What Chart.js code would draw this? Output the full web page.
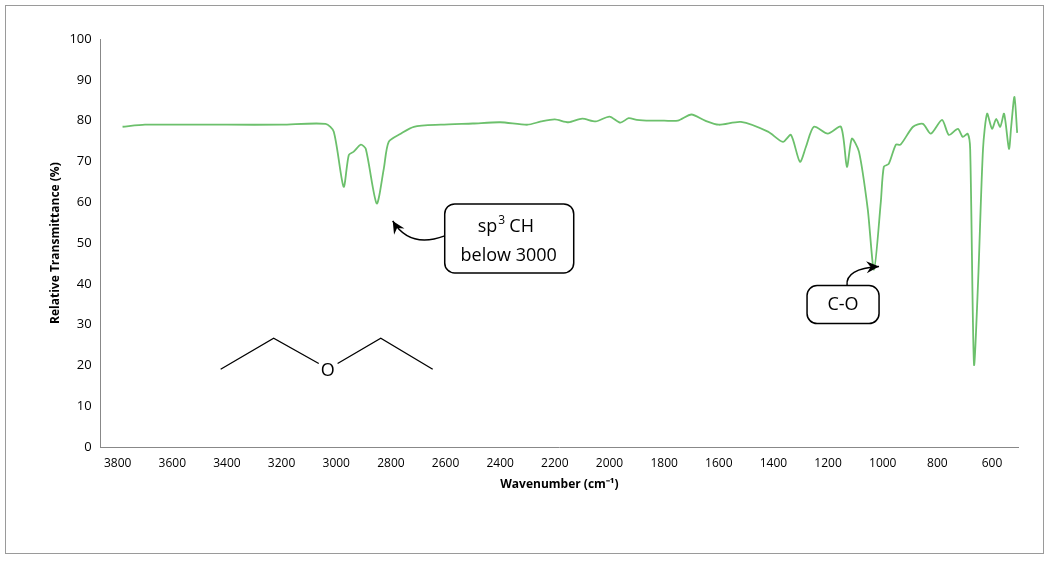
<!DOCTYPE html>
<html><head><meta charset="utf-8">
<script src="https://cdn.jsdelivr.net/npm/chart.js@4/dist/chart.umd.min.js"></script>
<style>
html,body{margin:0;padding:0;background:#fff;}
#wrap{position:absolute;left:5px;top:5px;width:1039px;height:549px;border:1px solid #9a9a9a;box-sizing:border-box;}
canvas{position:absolute;left:0;top:0;}
</style></head><body>
<div id="wrap"></div>
<canvas id="c" width="1052" height="562"></canvas>
<script>
const wavenumbers = [3782,3700,3600,3400,3200,3039,3009,2973,2954,2936,2910,2892,2852,2826,2808,2764,2716,2617,2500,2400,2300,2250,2200,2150,2100,2050,2000,1960,1930,1900,1850,1800,1750,1700,1650,1600,1519,1420,1365,1336,1303,1281,1252,1201,1153,1131,1113,1087,1055,1032,1007,996,978,952,935,889,853,824,783,758,725,707,689,680,666,651,633,618,600,585,570,556,538,530,518,508];
const transmittance = [78.5,79,79,79,79,79.2,77.3,63.8,71.6,72.4,74.1,73.1,59.7,68.2,74.8,76.8,78.5,79,79.3,79.6,79,79.8,80.3,79.6,80.5,79.8,81,79.5,80.6,80.2,80,80,80,81.5,80,79,79.7,77.3,74.8,76.5,69.9,73.6,78.5,76.8,78.5,68.7,75.6,72.4,58.4,43.5,60.1,68.7,69.4,74.1,74.1,78.5,79.2,76.8,80.2,76.5,78,76,76.8,73,20.3,40.6,73.1,81.7,78,80.4,78.5,81.7,73.1,78.5,85.8,77];
const xTicks = [3800,3600,3400,3200,3000,2800,2600,2400,2200,2000,1800,1600,1400,1200,1000,800,600];
const F = '"Open Sans", sans-serif';

const overlay = {
  id:'overlay',
  afterDraw(ch){
    const c=ch.ctx, xs=ch.scales.x, ys=ch.scales.y;
    const P=(w,t)=>[xs.getPixelForValue(w),ys.getPixelForValue(t)];
    c.save();
    c.strokeStyle='#000'; c.fillStyle='#000'; c.lineWidth=1.3;
    const m=[[3423,19.1],[3229,26.7],[3064,20.5]], m2=[[2995,20.5],[2837,26.7],[2647,19.1]];
    [m,m2].forEach(s=>{c.beginPath();s.forEach((p,i)=>{const q=P(p[0],p[1]);i?c.lineTo(q[0],q[1]):c.moveTo(q[0],q[1]);});c.stroke();});
    c.font='18px '+F; c.textAlign='center'; c.textBaseline='middle';
    let o=P(3031,18.8); c.fillText('O',o[0],o[1]);
    function rr(x,y,w,h,r){c.beginPath();c.moveTo(x+r,y);c.arcTo(x+w,y,x+w,y+h,r);c.arcTo(x+w,y+h,x,y+h,r);c.arcTo(x,y+h,x,y,r);c.arcTo(x,y,x+w,y,r);c.closePath();c.fillStyle='#fff';c.fill();c.stroke();c.fillStyle='#000';}
    function arrow(x0,y0,cx,cy,x1,y1){c.beginPath();c.moveTo(x0,y0);c.quadraticCurveTo(cx,cy,x1,y1);c.stroke();
      const a=Math.atan2(y1-cy,x1-cx),L=14;c.beginPath();c.moveTo(x1,y1);c.lineTo(x1-L*Math.cos(a-0.45),y1-L*Math.sin(a-0.45));c.lineTo(x1-L*Math.cos(a)*0.6,y1-L*Math.sin(a)*0.6);c.lineTo(x1-L*Math.cos(a+0.45),y1-L*Math.sin(a+0.45));c.closePath();c.fill();}
    let b=P(2603,59.6); c.lineWidth=1.5; rr(b[0],b[1],129,69,10);
    c.font='18px '+F;
    c.fillText('below 3000',b[0]+64,b[1]+52);
    c.textAlign='left'; const t1x=b[0]+33, t1y=b[1]+23;
    c.fillText('sp',t1x,t1y); let w=c.measureText('sp').width;
    c.font='12px '+F; c.fillText('3',t1x+w+1,t1y-6);
    c.font='18px '+F; c.fillText('CH',t1x+w+12,t1y);
    c.textAlign='center';
    arrow(b[0],b[1]+32,b[0]-35,b[1]+45,b[0]-52,b[1]+17);
    let d=P(1277,39.6); rr(d[0],d[1],72,38,10);
    c.fillText('C-O',d[0]+36,d[1]+19);
    arrow(d[0]+40,d[1],d[0]+38,d[1]-17,d[0]+72,d[1]-19);
    c.restore();
  }
};

new Chart(document.getElementById('c'),{
  type:'line',
  data:{datasets:[{data:wavenumbers.map((w,i)=>({x:w,y:transmittance[i]})),borderColor:'#6cc06c',borderWidth:1.8,pointRadius:0,tension:0.25,fill:false}]},
  options:{responsive:false,animation:false,
    layout:{padding:{left:44,right:34,top:39,bottom:66}},
    plugins:{legend:{display:false},tooltip:{enabled:false}},
    scales:{
      x:{type:'linear',reverse:true,min:505,max:3862,
        afterBuildTicks(s){s.ticks=xTicks.map(v=>({value:v}));},
        grid:{display:false,drawTicks:true,tickLength:6,color:'#888'},border:{color:'#888'},
        ticks:{color:'#000',font:{family:F,size:12},maxRotation:0,autoSkip:false,callback:v=>String(v)},
        title:{display:true,text:'Wavenumber (cm⁻¹)',color:'#000',font:{family:F,size:12,weight:'bold'}}},
      y:{min:0,max:100,
        ticks:{stepSize:10,color:'#000',font:{family:F,size:13}},
        grid:{display:false,tickLength:6,color:'#888'},border:{color:'#888'},
        title:{display:true,text:'Relative Transmittance (%)',color:'#000',font:{family:F,size:12,weight:'bold'}}}
    }},
  plugins:[overlay]
});
</script></body></html>
